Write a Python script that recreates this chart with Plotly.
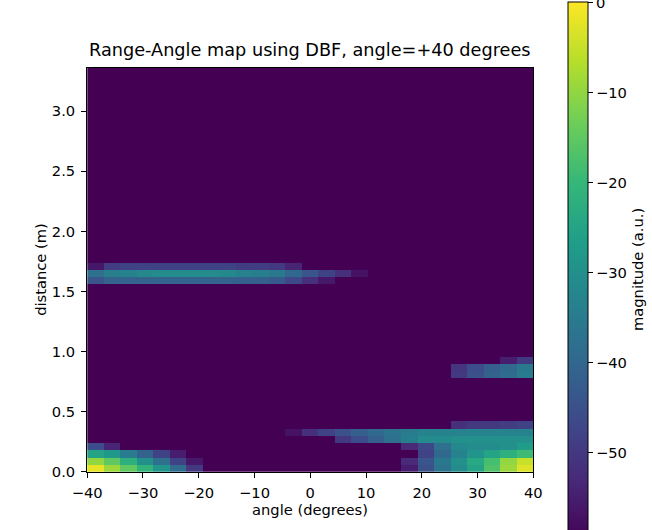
import numpy as np
import plotly.graph_objects as go

# ---- data ----
n_angle_bins = 27
n_range_bins = 56
range_bin = 0.06            # metres per range bin
angle_min, angle_max = -40.0, 40.0
background_db = -60.0

angles = [angle_min + (angle_max - angle_min) / n_angle_bins * (i + 0.5) for i in range(n_angle_bins)]
distances = [range_bin * (k + 0.5) for k in range(n_range_bins)]

# each entry: range-bin row -> (first angle column, magnitudes in dB)
near_left = {
    0: (0, [-2, -9, -15, -21, -29, -39, -50]),
    1: (0, [-10, -15, -22, -30, -38, -48, -56]),
    2: (0, [-25, -28, -35, -41, -48, -55]),
    3: (0, [-46, -54]),
}
band_1p6 = {
    26: (0, [-44, -41, -41, -41, -41, -41, -41, -41, -41, -42, -42, -43, -47, -52, -56]),
    27: (0, [-38, -34, -33, -32, -31, -31, -31, -31, -32, -33, -34, -36, -40, -44, -48, -52, -57]),
    28: (0, [-56, -49, -48, -48, -48, -48, -48, -48, -48, -49, -49, -50, -54]),
}
band_0p85 = {
    13: (22, [-50, -45, -41, -39, -35]),
    14: (22, [-51, -46, -42, -40, -36]),
    15: (25, [-55, -50]),
}
near_right = {
    0: (19, [-55, -45, -37, -31, -25, -17, -9, -3]),
    1: (19, [-53, -44, -36, -30, -24, -18, -10, -5]),
    2: (20, [-48, -40, -33, -29, -25, -22, -19]),
    3: (19, [-53, -47, -38, -32, -31, -31, -30, -27]),
    4: (15, [-50, -46, -42, -38, -34, -31, -31, -30, -30, -30, -30, -30]),
    5: (12, [-57, -52, -48, -45, -42, -40, -37, -35, -33, -33, -33, -33, -33, -33, -33]),
    6: (22, [-52, -50, -50, -49, -48]),
}

colorbar_ticks = [0, -10, -20, -30, -40, -50, -60]
x_ticks = [-40, -30, -20, -10, 0, 10, 20, 30, 40]
y_ticks = [0.0, 0.5, 1.0, 1.5, 2.0, 2.5, 3.0]

# ---- build matrix ----
z = np.full((n_range_bins, n_angle_bins), background_db)
for blob in (near_left, band_1p6, band_0p85, near_right):
    for row, (c0, vals) in blob.items():
        z[row, c0:c0 + len(vals)] = vals

W, H = 652, 530
FONT = "DejaVu Sans"
TICK = 14.7
# plot area in pixels
px_l, px_r, px_t, px_b = 74, 538, 69, 479

fig = go.Figure(go.Heatmap(
    x=angles, y=distances, z=z,
    colorscale="Viridis", zmin=-60, zmax=0, zsmooth=False,
    colorbar=dict(
        x=574 / W, xanchor="left", xpad=0,
        y=1 - 2.5 / H, yanchor="top", ypad=0,
        lenmode="pixels", len=540, thickness=20,
        outlinewidth=1, outlinecolor="black",
        tickvals=colorbar_ticks, ticks="outside", ticklen=5, tickcolor="black",
        ticklabeloverflow="allow",
        tickfont=dict(family=FONT, size=TICK, color="black"),
    ),
))

axis_common = dict(
    showline=True, mirror=True, linecolor="black", linewidth=1,
    ticks="outside", ticklen=5, tickcolor="black", showgrid=False, zeroline=False,
    ticklabelstandoff=3,
    tickfont=dict(family=FONT, size=TICK, color="black"),
)
fig.update_layout(
    width=W, height=H,
    margin=dict(l=0, r=0, t=0, b=0),
    paper_bgcolor="white", plot_bgcolor="white",
    xaxis=dict(domain=[px_l / W, px_r / W], range=[angle_min, angle_max], tickvals=x_ticks,
               **axis_common),
    yaxis=dict(domain=[1 - px_b / H, 1 - px_t / H], range=[0, range_bin * n_range_bins],
               tickvals=y_ticks, tickformat=".1f",
               **axis_common),
    annotations=[
        dict(text="Range-Angle map using DBF, angle=+40 degrees", xref="paper", yref="paper",
             x=(px_l + px_r) / 2 / W, y=1 - (px_t - 6) / H, xanchor="center", yanchor="bottom",
             showarrow=False, font=dict(family=FONT, size=17.7, color="black")),
        dict(text="angle (degrees)", xref="paper", yref="paper",
             x=(px_l + px_r) / 2 / W, y=1 - 517 / H, xanchor="center", yanchor="middle",
             showarrow=False, font=dict(family=FONT, size=TICK, color="black")),
        dict(text="distance (m)", xref="paper", yref="paper",
             x=26 / W, y=1 - (px_t + px_b) / 2 / H, xanchor="center", yanchor="middle", textangle=-90,
             showarrow=False, font=dict(family=FONT, size=TICK, color="black")),
        dict(text="magnitude (a.u.)", xref="paper", yref="paper",
             x=647 / W, y=1 - 274 / H, xanchor="center", yanchor="middle", textangle=-90,
             showarrow=False, font=dict(family=FONT, size=TICK, color="black")),
    ],
)
fig.write_html("out.html")
